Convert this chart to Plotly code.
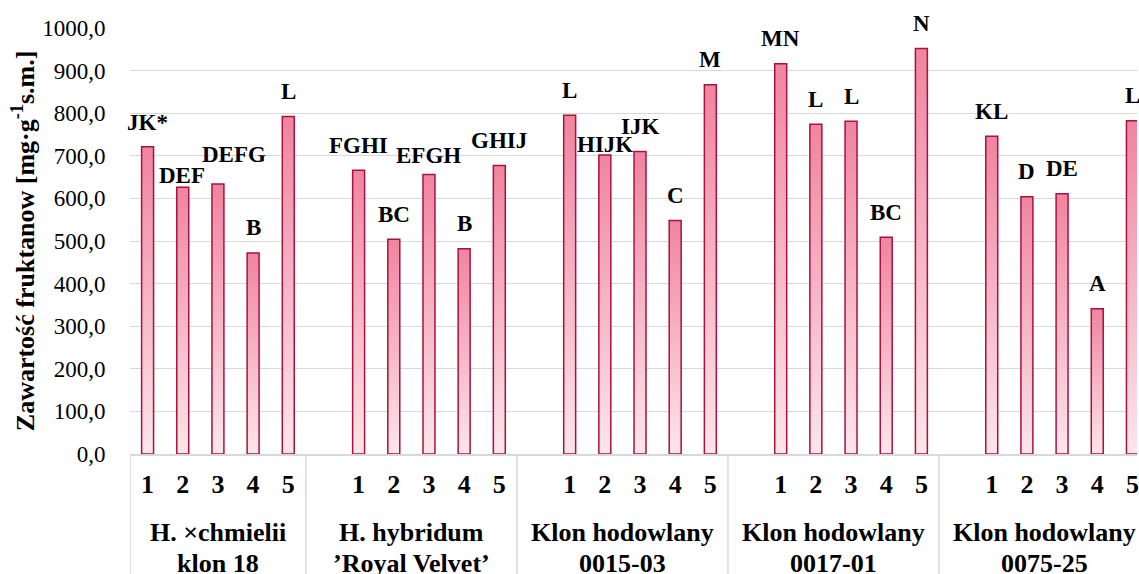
import plotly.graph_objects as go

# ---- data ----
groups = ["H. ×chmielii\nklon 18", "H. hybridum\n’Royal Velvet’", "Klon hodowlany\n0015-03",
          "Klon hodowlany\n0017-01", "Klon hodowlany\n0075-25"]
treatments = ["1", "2", "3", "4", "5"]
values_g1 = [721, 626, 634, 472, 792]
values_g2 = [666, 504, 656, 482, 677]
values_g3 = [795, 702, 710, 548, 867]
values_g4 = [916, 774, 781, 509, 952]
values_g5 = [746, 604, 611, 341, 782]
letters_g1 = ["JK*", "DEF", "DEFG", "B", "L"]
letters_g2 = ["FGHI", "BC", "EFGH", "B", "GHIJ"]
letters_g3 = ["L", "HIJK", "IJK", "C", "M"]
letters_g4 = ["MN", "L", "L", "BC", "N"]
letters_g5 = ["KL", "D", "DE", "A", "L"]
y_tick_values = [0, 100, 200, 300, 400, 500, 600, 700, 800, 900, 1000]

values = [values_g1, values_g2, values_g3, values_g4, values_g5]
letters = [letters_g1, letters_g2, letters_g3, letters_g4, letters_g5]

# ---- styling ----
FONT = "Liberation Serif"
GRID = "#d9d9d9"
EDGE = "#a8123f"
BAR_W = 0.34
# manual label nudges (dx, dy in px) as in the original
label_nudge = {(0, 0): (0, -1), (0, 1): (-1, -13), (0, 2): (16, 4), (1, 2): (0, -6), (2, 1): (0, -15)}

# slot layout: a blank slot precedes every group except the first
positions, group_pos, dividers = [], [], [-0.5]
slot = 0
for g in range(len(groups)):
    if g > 0:
        dividers.append(slot - 0.5)
        slot += 1
    gp = []
    for _ in treatments:
        gp.append(slot)
        slot += 1
    group_pos.append(gp)
    positions.extend(gp)
x_range = [-0.5, 28.13]

fig = go.Figure()

# gradient fills
for g, gp in enumerate(group_pos):
    for p, v in zip(gp, values[g]):
        fig.add_trace(go.Scatter(
            x=[p - BAR_W / 2, p - BAR_W / 2, p + BAR_W / 2, p + BAR_W / 2, p - BAR_W / 2],
            y=[0, v, v, 0, 0], mode="lines", fill="toself", line=dict(width=0),
            fillgradient=dict(type="vertical", start=0, stop=v,
                              colorscale=[[0, "#fce6ec"], [1, "#f0849f"]]),
            hoverinfo="skip", showlegend=False, xaxis="x", yaxis="y"))

# bar outlines (drawn on overlay axes so they sit on top)
all_vals = [v for vs in values for v in vs]
fig.add_trace(go.Bar(x=positions, y=all_vals, width=BAR_W,
                     marker=dict(color="rgba(0,0,0,0)", line=dict(color=EDGE, width=1.5)),
                     xaxis="x2", yaxis="y2", showlegend=False))

annotations = []
for g, gp in enumerate(group_pos):
    for b, (p, v, lab) in enumerate(zip(gp, values[g], letters[g])):
        dx, dy = label_nudge.get((g, b), (0, 0))
        annotations.append(dict(x=p, y=v, xref="x", yref="y", text=f"<b>{lab}</b>", showarrow=False,
                                xanchor="center", yanchor="middle", xshift=dx, yshift=25 + dy,
                                font=dict(family=FONT, size=23, color="black")))
    lines = groups[g].split("\n")
    cx = (gp[0] + gp[-1]) / 2 - (0.5 if g > 0 else 0)
    for k, line in enumerate(lines):
        annotations.append(dict(x=cx, y=0, xref="x", yref="paper", text=f"<b>{line}</b>", showarrow=False,
                                xanchor="center", yanchor="middle", yshift=-78 - 31 * k,
                                font=dict(family=FONT, size=26, color="black")))

annotations.append(dict(x=-(130 - 23) / 1009, y=0.5, xref="paper", yref="paper",
                        text="<b>Zawartość fruktanow [mg·g<sup>-1</sup>s.m.]</b>", textangle=-90,
                        showarrow=False, xanchor="center", yanchor="middle",
                        font=dict(family=FONT, size=26, color="black")))

shapes = [dict(type="line", xref="x", yref="paper", x0=d, x1=d, y0=0, y1=-0.35,
               line=dict(color=GRID, width=1.5)) for d in dividers]

fig.update_layout(
    width=1139, height=574,
    margin=dict(l=130, r=0, t=28, b=120),
    paper_bgcolor="white", plot_bgcolor="white",
    separators=", ",
    font=dict(family=FONT, color="black"),
    annotations=annotations, shapes=shapes,
    xaxis=dict(range=x_range, tickmode="array", tickvals=positions,
               ticktext=[f"<b>{t}</b>" for t in treatments] * len(groups),
               showgrid=False, zeroline=False,
               showline=True, linecolor=GRID, linewidth=1.5,
               ticks="outside", ticklen=6, tickcolor="rgba(0,0,0,0)",
               ticklabeloverflow="allow",
               tickfont=dict(family=FONT, size=26, color="black")),
    yaxis=dict(range=[0, 1000], tickmode="array", tickvals=y_tick_values, tickformat=".1f",
               showgrid=True, gridcolor=GRID, gridwidth=1.3, zeroline=False, showline=False,
               ticks="outside", ticklen=19, tickcolor="rgba(0,0,0,0)",
               tickfont=dict(family=FONT, size=23, color="black")),
    xaxis2=dict(overlaying="x", range=x_range, visible=False),
    yaxis2=dict(overlaying="y", range=[0, 1000], visible=False),
    showlegend=False,
)

fig.write_html("out.html")
